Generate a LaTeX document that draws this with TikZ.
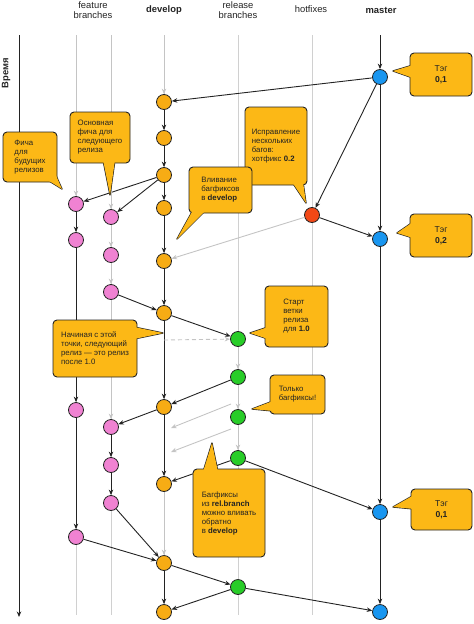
\documentclass[tikz,border=0pt]{standalone}
\usepackage{fontspec}
\setmainfont{Liberation Sans}
\usetikzlibrary{arrows.meta}
\definecolor{devc}{RGB}{247,172,20}
\definecolor{feac}{RGB}{240,130,210}
\definecolor{relc}{RGB}{40,205,40}
\definecolor{hotc}{RGB}{242,72,22}
\definecolor{masc}{RGB}{25,150,240}
\definecolor{lanec}{RGB}{208,208,208}
\definecolor{garr}{RGB}{196,196,196}
\definecolor{bubc}{RGB}{252,184,22}
\definecolor{inkc}{RGB}{35,35,35}
\begin{document}
\begin{tikzpicture}[x=1pt,y=-1pt,
  commit/.style={circle,draw=inkc,line width=0.8pt,minimum size=15pt,inner sep=0pt},
  dev/.style={commit,fill=devc},
  fea/.style={commit,fill=feac},
  rel/.style={commit,fill=relc},
  hot/.style={commit,fill=hotc},
  mas/.style={commit,fill=masc},
  blk/.style={draw=inkc,line width=0.9pt,-{Stealth[length=5.5pt,width=4.5pt]}},
  gry/.style={draw=garr,line width=0.9pt,-{Stealth[length=5.5pt,width=4.5pt]}},
  lane/.style={draw=lanec,line width=0.9pt},
  bubbox/.style={draw=inkc,fill=bubc,line width=0.9pt,rounded corners=4pt,inner sep=0pt,
    font=\fontsize{7.8}{9}\selectfont,text=inkc},
  tagbox/.style={bubbox,font=\fontsize{8.6}{11}\selectfont,align=center},
  bubptr/.style={draw=inkc,fill=bubc,line width=1.3pt,line join=round},
  head/.style={font=\fontsize{9.4}{10.5}\selectfont,text=inkc,align=center},
  headb/.style={head,font=\fontsize{9.4}{10.5}\selectfont\bfseries}
]
\useasboundingbox (0,0) rectangle (474,624);

% headers
\node[head] (hfeat) at (93,10) {feature\\branches};
\node[headb] (hdev) at (164,10) {develop};
\node[head] (hrel) at (238,10) {release\\branches};
\node[head] (hhot) at (311,9) {hotfixes};
\node[headb] (hmas) at (381,10) {master};
\node[headb,rotate=90] (htime) at (6,73) {Время};

% lane coordinates
\coordinate (tf1) at (76,35);  \coordinate (bf1) at (76,615);
\coordinate (tf2) at (111,35); \coordinate (bf2) at (111,615);
\coordinate (tdv) at (164,35); \coordinate (bdv) at (164,615);
\coordinate (trl) at (238,35); \coordinate (brl) at (238,615);
\coordinate (tht) at (312,35); \coordinate (bht) at (312,615);
\coordinate (tms) at (380,35);
\coordinate (ttm) at (19,35);  \coordinate (btm) at (19,617);

\draw[lane] (tf1) -- (bf1);
\draw[lane] (tf2) -- (bf2);
\draw[lane] (tdv) -- (bdv);
\draw[lane] (trl) -- (brl);
\draw[lane] (tht) -- (bht);
\draw[draw=inkc,line width=0.9pt,-{Stealth[length=5.5pt,width=4.5pt]}] (ttm) -- (btm);

% commits
\node[mas] (m1) at (380,77) {};
\node[mas] (m2) at (380,239) {};
\node[mas] (m3) at (380,512) {};
\node[mas] (m4) at (380,612) {};

\node[dev] (d1) at (164,102) {};
\node[dev] (d2) at (164,138) {};
\node[dev] (d3) at (164,175) {};
\node[dev] (d4) at (164,208) {};
\node[dev] (d5) at (164,261) {};
\node[dev] (d6) at (164,313) {};
\node[dev] (d7) at (164,407) {};
\node[dev] (d8) at (164,484) {};
\node[dev] (d9) at (164,563) {};
\node[dev] (d10) at (164,612) {};

\node[fea] (f1a) at (76,204) {};
\node[fea] (f1b) at (76,240) {};
\node[fea] (f1c) at (76,410) {};
\node[fea] (f1d) at (76,537) {};

\node[fea] (f2a) at (111,217) {};
\node[fea] (f2b) at (111,255) {};
\node[fea] (f2c) at (111,292) {};
\node[fea] (f2d) at (111,427) {};
\node[fea] (f2e) at (111,465) {};
\node[fea] (f2f) at (111,503) {};

\node[rel] (r1) at (238,339) {};
\node[rel] (r2) at (238,377) {};
\node[rel] (r3) at (238,417) {};
\node[rel] (r4) at (238,458) {};
\node[rel] (r5) at (238,587) {};

\node[hot] (h1) at (312,215) {};

% black connectors
\draw[blk] (tms) -- (m1);
\draw[blk] (m1) -- (m2);
\draw[blk] (m2) -- (m3);
\draw[blk] (m3) -- (m4);
\draw[blk] (m1) -- (d1);
\draw[blk] (m1) -- (h1);
\draw[blk] (h1) -- (m2);
\draw[blk] (d1) -- (d2);
\draw[blk] (d2) -- (d3);
\draw[blk] (d3) -- (d4);
\draw[blk] (d4) -- (d5);
\draw[blk] (d5) -- (d6);
\draw[blk] (d6) -- (d7);
\draw[blk] (d7) -- (d8);
\draw[blk] (d9) -- (d10);
\draw[blk] (d3) -- (f1a);
\draw[blk] (d3) -- (f2a);
\draw[blk] (f1a) -- (f1b);
\draw[blk] (f1b) -- (f1c);
\draw[blk] (f1c) -- (f1d);
\draw[blk] (f2c) -- (d6);
\draw[blk] (d7) -- (f2d);
\draw[blk] (f2d) -- (f2e);
\draw[blk] (f2e) -- (f2f);
\draw[blk] (f2f) -- (d9);
\draw[blk] (f1d) -- (d9);
\draw[blk] (d6) -- (r1);
\draw[blk] (r2) -- (d7);
\draw[blk] (r4) -- (d8);
\draw[blk] (r4) -- (m3);
\draw[blk] (d9) -- (r5);
\draw[blk] (r5) -- (d10);
\draw[blk] (r5) -- (m4);

% grey connectors
\draw[gry] (tdv) -- (d1);
\draw[gry] (tf1) -- (f1a);
\draw[gry] (tf2) -- (f2a);
\draw[gry] (f2a) -- (f2b);
\draw[gry] (f2b) -- (f2c);
\draw[gry] (f2c) -- (f2d);
\draw[gry] (h1) -- (d5);
\draw[gry] (r1) -- (r2);
\draw[gry] (r2) -- (r3);
\draw[gry] (r3) -- (r4);
\draw[gry] (d8) -- (d9);
\coordinate (dsh) at (164,340);
\draw[gry,dash pattern=on 4pt off 3pt] (dsh) -- (r1);
\coordinate (ga1s) at (231,404); \coordinate (ga1e) at (171,428);
\coordinate (ga2s) at (231,429); \coordinate (ga2e) at (171,452);
\draw[gry] (ga1s) -- (ga1e);
\draw[gry] (ga2s) -- (ga2e);

% bubbles
% Tag 0,1 top
\filldraw[bubptr] (413,65) -- (393,71) -- (413,78) -- cycle;
\node[tagbox,minimum width=62pt,minimum height=43pt] (bt1) at (441,74.5) {Тэг\\\textbf{0,1}};
\fill[bubc] (413,65) -- (393,71) -- (413,78) -- cycle;
% Tag 0,2
\filldraw[bubptr] (413,222) -- (397,233) -- (413,238) -- cycle;
\node[tagbox,minimum width=62pt,minimum height=43pt] (bt2) at (441,235.5) {Тэг\\\textbf{0,2}};
\fill[bubc] (413,222) -- (397,233) -- (413,238) -- cycle;
% Tag 0,1 bottom
\filldraw[bubptr] (414,495) -- (393,507) -- (414,509) -- cycle;
\node[tagbox,minimum width=61pt,minimum height=41pt] (bt3) at (441.5,509.5) {Тэг\\\textbf{0,1}};
\fill[bubc] (414,495) -- (393,507) -- (414,509) -- cycle;
% hotfix
\filldraw[bubptr] (292,182) -- (306,203) -- (303,182) -- cycle;
\node[bubbox,minimum width=62pt,minimum height=78pt,align=left] (bhf) at (276,146) {Исправление\\нескольких\\багов:\\хотфикс \textbf{0.2}};
\fill[bubc] (292,182) -- (306,203) -- (303,182) -- cycle;
% merge bugfixes
\filldraw[bubptr] (193,210) -- (177,239) -- (206,210) -- cycle;
\node[bubbox,minimum width=63pt,minimum height=46pt,align=left] (bmg) at (220.5,190) {Вливание\\багфиксов\\в \textbf{develop}};
\fill[bubc] (193,210) -- (177,239) -- (206,210) -- cycle;
% main feature
\filldraw[bubptr] (103,160) -- (110,195) -- (115,160) -- cycle;
\node[bubbox,minimum width=60pt,minimum height=51pt,align=left] (bmf) at (100,137.5) {Основная\\фича для\\следующего\\релиза};
\fill[bubc] (103,160) -- (110,195) -- (115,160) -- cycle;
% future feature
\filldraw[bubptr] (46,179) -- (62,189) -- (54,171) -- cycle;
\node[bubbox,minimum width=54pt,minimum height=50pt,align=left] (bff) at (30,157) {Фича\\для\\будущих\\релизов};
\fill[bubc] (46,179) -- (62,189) -- (54,171) -- cycle;
% from this point
\filldraw[bubptr] (134,327) -- (163,333) -- (134,339) -- cycle;
\node[bubbox,minimum width=84pt,minimum height=57pt,align=left] (bfp) at (95,348.5) {Начиная с этой\\точки, следующий\\релиз — это релиз\\после 1.0};
\fill[bubc] (134,327) -- (163,333) -- (134,339) -- cycle;
% release start
\filldraw[bubptr] (268,327) -- (250,333) -- (268,339) -- cycle;
\node[bubbox,minimum width=63pt,minimum height=61pt,align=left] (brs) at (296.5,316.5) {Старт\\ветки\\релиза\\для \textbf{1.0}};
\fill[bubc] (268,327) -- (250,333) -- (268,339) -- cycle;
% only bugfixes
\filldraw[bubptr] (273,401) -- (252,409) -- (273,411) -- cycle;
\node[bubbox,minimum width=55pt,minimum height=39pt,align=left] (bob) at (297.5,394.5) {Только\\багфиксы!};
\fill[bubc] (273,401) -- (252,409) -- (273,411) -- cycle;
% bugfixes back
\filldraw[bubptr] (203,472) -- (212,443) -- (218,472) -- cycle;
\node[bubbox,minimum width=72pt,minimum height=88pt,align=left] (bbb) at (229,513) {Багфиксы\\из \textbf{rel.branch}\\можно вливать\\обратно\\в \textbf{develop}};
\fill[bubc] (203,472) -- (212,443) -- (218,472) -- cycle;
\end{tikzpicture}
\end{document}
